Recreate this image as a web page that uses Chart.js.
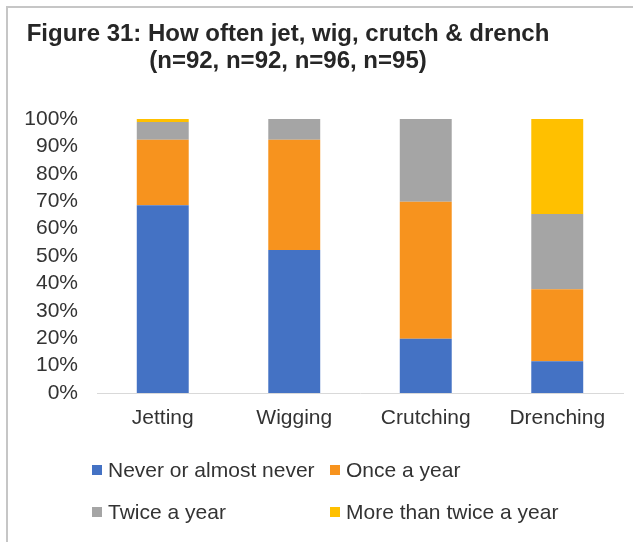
<!DOCTYPE html>
<html>
<head>
<meta charset="utf-8">
<script src="https://cdn.jsdelivr.net/npm/chart.js@4"></script>
<style>
  html, body { margin: 0; padding: 0; background: #fff; }
  body { width: 633px; height: 542px; position: relative; overflow: hidden;
         font-family: "Liberation Sans", Arial, sans-serif; color: #333; }
  #frame { position: absolute; left: 6px; top: 6px; width: 700px; height: 600px;
           border-left: 2px solid #c6c6c6; border-top: 2px solid #c6c6c6; }
  #chartBox { position: absolute; left: 0; top: 0; width: 633px; height: 542px; }
  #title { position: absolute; left: 0; top: 19px; width: 576px; text-align: center;
           font-weight: bold; font-size: 24px; line-height: 27px; color: #262626; }
  #legend { position: absolute; left: 92px; top: 457px;
            display: grid; grid-template-columns: 238px auto; row-gap: 16px; }
  .item { display: flex; align-items: center; font-size: 21px; line-height: 26px; color: #333; }
  .swatch { width: 10px; height: 10px; margin-right: 6px; }
</style>
</head>
<body>
<div id="frame"></div>
<div id="chartBox"><canvas id="chartId" width="633" height="542"></canvas></div>
<div id="title">Figure 31: How often jet, wig, crutch &amp; drench<br>(n=92, n=92, n=96, n=95)</div>
<div id="legend"></div>
<script>
// share of respondents (%) per task
var tasks = ["Jetting", "Wigging", "Crutching", "Drenching"];
var never = [68.5, 52.2, 19.8, 11.6];
var once = [23.9, 40.2, 50.0, 26.3];
var twice = [6.5, 7.6, 30.2, 27.4];
var moreThanTwice = [1.1, 0, 0, 34.7];

var seriesNames = ["Never or almost never", "Once a year", "Twice a year", "More than twice a year"];
var seriesColors = ["#4472C4", "#F7931E", "#A5A5A5", "#FFC000"];
var seriesData = [never, once, twice, moreThanTwice];

var datasets = seriesData.map(function(values, i) {
    return {
        label: seriesNames[i],
        data: values,
        backgroundColor: seriesColors[i],
        borderWidth: 0,
        barPercentage: 1,
        categoryPercentage: 0.395
    };
});

var tickFont = { family: "'Liberation Sans', Arial, sans-serif", size: 21 };

var chart = new Chart(document.getElementById("chartId").getContext("2d"), {
    type: 'bar',
    data: { labels: tasks, datasets: datasets },
    options: {
        responsive: false,
        animation: false,
        layout: { padding: { left: 0, right: 10, top: 119, bottom: 109 } },
        plugins: { legend: { display: false }, tooltip: { enabled: false } },
        scales: {
            x: {
                stacked: true,
                grid: { display: false, drawTicks: false },
                border: { display: true, color: '#d9d9d9', width: 1 },
                ticks: { font: tickFont, color: '#333', padding: 13, autoSkip: false, maxRotation: 0 },
                afterFit: function(scale) { scale.height = 40; }
            },
            y: {
                stacked: true,
                min: 0,
                max: 100,
                grid: { display: false, drawTicks: false },
                border: { display: false },
                ticks: {
                    stepSize: 10,
                    autoSkip: false,
                    font: tickFont,
                    color: '#333',
                    padding: 19,
                    callback: function(value) { return value + '%'; }
                },
                afterFit: function(scale) { scale.width = 97; }
            }
        }
    }
});

// legend in a two-column grid
var legend = document.getElementById("legend");
chart.data.datasets.forEach(function(ds) {
    var item = document.createElement("div");
    item.className = "item";
    var swatch = document.createElement("span");
    swatch.className = "swatch";
    swatch.style.background = ds.backgroundColor;
    item.appendChild(swatch);
    item.appendChild(document.createTextNode(ds.label));
    legend.appendChild(item);
});
</script>
</body>
</html>
